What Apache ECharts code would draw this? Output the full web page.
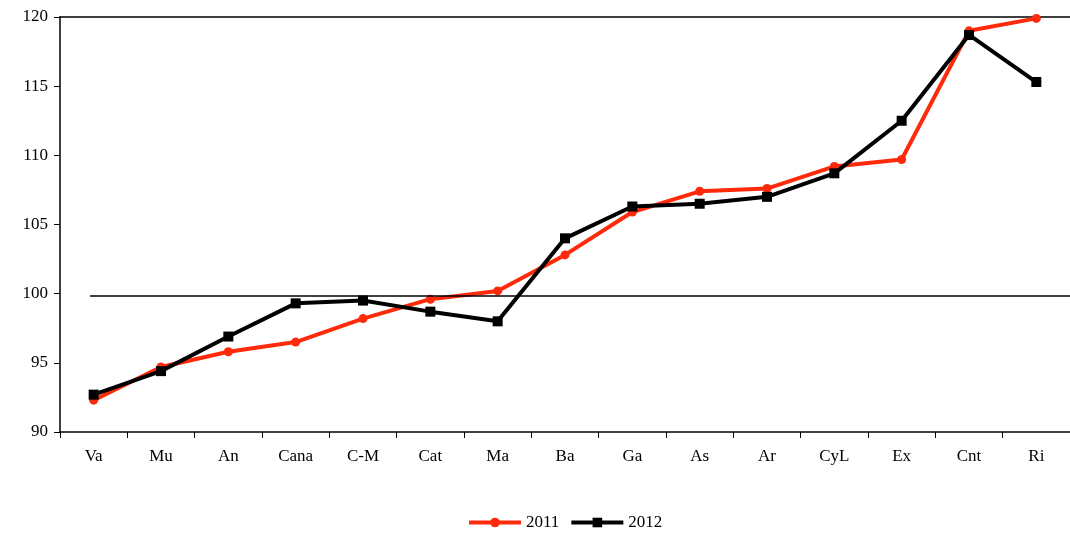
<!DOCTYPE html>
<html>
<head>
<meta charset="utf-8">
<script src="https://cdn.jsdelivr.net/npm/echarts@6/dist/echarts.min.js"></script>
<style>html,body{margin:0;background:#fff}#c{width:1070px;height:540px}</style>
</head>
<body>
<div id="c"></div>
<script>
let regions = ["Va", "Mu", "An", "Cana", "C-M", "Cat", "Ma", "Ba", "Ga", "As", "Ar", "CyL", "Ex", "Cnt", "Ri"];
let v2011 = [92.3, 94.7, 95.8, 96.5, 98.2, 99.6, 100.2, 102.8, 105.9, 107.4, 107.6, 109.2, 109.7, 119.0, 119.9];
let v2012 = [92.7, 94.4, 96.9, 99.3, 99.5, 98.7, 98.0, 104.0, 106.3, 106.5, 107.0, 108.7, 112.5, 118.7, 115.3];

let font = "Liberation Serif";
let mychart = echarts.init(document.getElementById("c"));
let options = {
    animation: false,
    textStyle: { fontFamily: font },
    grid: { left: 60, right: 0, top: 17, bottom: 108 },
    legend: {
        bottom: 4,
        left: 462,
        itemWidth: 52,
        itemHeight: 12,
        itemGap: 10,
        textStyle: { fontFamily: font, fontSize: 17, color: "#000" },
        data: [
            { name: "2011", itemStyle: { color: "#ff2a0a" }, lineStyle: { width: 4 } },
            { name: "2012", itemStyle: { color: "#000" }, lineStyle: { width: 4 } }
        ]
    },
    xAxis: [{
        type: "category",
        data: regions,
        axisLine: { lineStyle: { color: "#000", width: 1.5 } },
        axisTick: { show: true, interval: 0, alignWithLabel: false, length: 6, lineStyle: { color: "#000" } },
        axisLabel: { color: "#000", fontSize: 17, margin: 16, fontFamily: font }
    }, {
        type: "category",
        position: "top",
        data: regions,
        axisLine: { lineStyle: { color: "#000", width: 1.5 } },
        axisTick: { show: false },
        axisLabel: { show: false }
    }],
    yAxis: {
        type: "value",
        min: 90,
        max: 120,
        interval: 5,
        axisLine: { show: true, lineStyle: { color: "#000", width: 1.5 } },
        axisTick: { show: true, length: 6, lineStyle: { color: "#000" } },
        splitLine: { show: false },
        axisLabel: { color: "#000", fontSize: 17, margin: 12, fontFamily: font }
    },
    series: [{
        name: "2011",
        type: "line",
        data: v2011,
        symbol: "circle",
        symbolSize: 9,
        color: "#ff2a0a",
        lineStyle: { width: 4 },
        markLine: {
            silent: true,
            symbol: "none",
            label: { show: false },
            lineStyle: { color: "#000", width: 1.5, type: "solid" },
            data: [[{ x: 90, yAxis: 99.85 }, { x: 1070, yAxis: 99.85 }]]
        }
    }, {
        name: "2012",
        type: "line",
        data: v2012,
        symbol: "rect",
        symbolSize: 10,
        color: "#000",
        lineStyle: { width: 4 }
    }]
};
mychart.setOption(options);
</script>
</body>
</html>
